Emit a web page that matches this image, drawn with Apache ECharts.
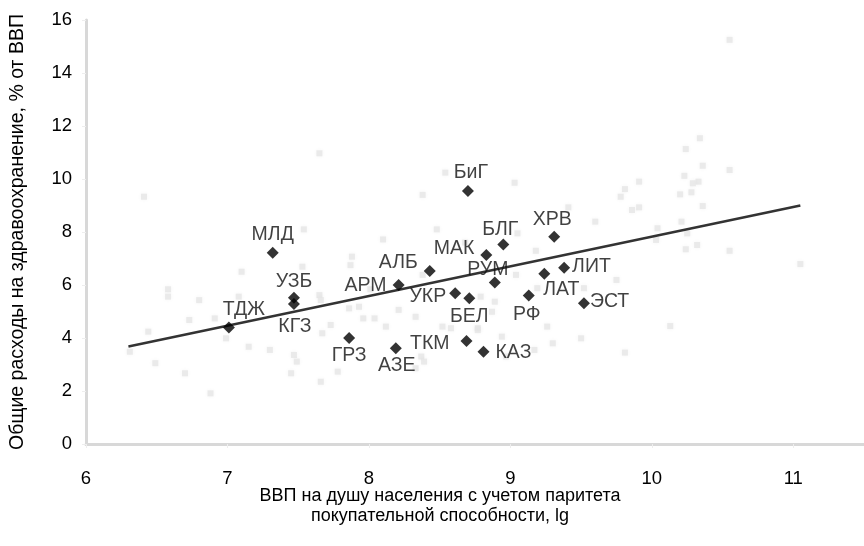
<!DOCTYPE html>
<html>
<head>
<meta charset="utf-8">
<script src="https://cdn.jsdelivr.net/npm/echarts@6/dist/echarts.min.js"></script>
<style>
  html, body { margin: 0; padding: 0; background: #fff; }
  #chart { width: 864px; height: 546px; }
</style>
</head>
<body>
<div id="chart"></div>
<script>
// Highlighted countries: code, log GDP per capita (PPP), total health spending (% of GDP)
const countryCodes = ['ТДЖ','МЛД','УЗБ','КГЗ','ГРЗ','АЗЕ','АРМ','АЛБ','УКР','БЕЛ','ТКМ','КАЗ','БиГ','МАК','БЛГ','РУМ','ХРВ','ЛАТ','ЛИТ','РФ','ЭСТ'];
const countryGdp   = [7.01, 7.32, 7.47, 7.47, 7.86, 8.19, 8.21, 8.43, 8.61, 8.71, 8.69, 8.81, 8.70, 8.83, 8.95, 8.89, 9.31, 9.24, 9.38, 9.13, 9.52];
const countryHealth= [4.40, 7.22, 5.52, 5.28, 4.00, 3.61, 6.00, 6.53, 5.69, 5.50, 3.89, 3.48, 9.55, 7.13, 7.53, 6.09, 7.82, 6.42, 6.65, 5.60, 5.31];

// Other countries of the world (background cloud)
const worldGdp = [6.41, 7.65, 8.54, 8.38, 9.03, 10.55, 10.34, 10.24, 10.36, 10.55, 10.23, 10.33, 10.29, 9.91, 9.81, 9.78, 10.20, 10.28,
  9.91, 9.86, 10.36, 9.60, 10.04, 10.21, 10.03, 10.25, 10.24, 10.32, 10.55, 11.05, 10.13, 9.81,
  9.41, 8.10, 8.48, 8.68, 9.05, 9.18, 7.88, 7.87, 8.38, 9.04, 9.19, 9.52, 9.75, 8.01, 8.21, 8.33, 7.96, 8.79, 8.87, 9.26, 8.52, 8.58, 8.77, 8.94, 9.30, 9.50, 8.12, 8.37, 8.39, 8.97, 8.33, 9.17,
  7.54, 7.10, 6.58, 6.58, 6.80, 7.08, 7.53, 7.65, 7.66, 7.86, 6.73, 6.91, 6.44, 6.99, 7.15, 7.30, 7.47, 7.49, 7.73, 7.67, 6.31, 6.49, 6.70, 6.88, 7.45, 7.66, 7.78,
  8.04, 7.93, 8.89, 8.77];
const worldHealth = [9.33, 10.97, 10.24, 9.40, 9.86, 15.25, 11.54, 11.13, 10.50, 10.34, 10.12, 9.90, 9.84, 9.90, 9.62, 9.33, 9.42, 9.50,
  8.93, 8.83, 8.98, 8.39, 8.14, 8.39, 7.70, 7.95, 7.35, 7.51, 7.29, 6.79, 4.45, 3.45,
  8.93, 7.72, 8.10, 7.60, 7.95, 7.29, 7.07, 6.75, 6.38, 6.38, 5.88, 5.88, 6.19, 5.84, 5.06, 4.80, 4.74, 5.56, 4.99, 4.43, 4.43, 4.37, 4.37, 4.05, 3.80, 3.99, 4.43, 3.30, 3.11, 3.30, 2.86, 3.55,
  8.10, 6.50, 5.84, 5.56, 5.43, 5.56, 6.69, 5.62, 5.43, 5.12, 4.68, 4.74, 4.24, 3.99, 3.67, 3.55, 3.36, 3.11, 4.49, 4.18, 3.48, 3.05, 2.67, 1.91, 2.67, 2.35, 2.73,
  4.74, 5.18, 5.37, 4.30];

// Linear trend end points
const trendGdp = [6.30, 11.05];
const trendHealth = [3.68, 9.00];

// Axis settings
const xTicks = { min: 6, max: 11.5, interval: 1 };
const yTicks = { min: 0, max: 16, interval: 2 };

// Where each country's caption sits relative to its marker
const labelPlace = {
  'ТДЖ': ['top', [15, 0], 2], 'МЛД': ['top', [0, 0], 2], 'УЗБ': ['top', [0, 2], 2], 'КГЗ': ['bottom', [1, 5], 2],
  'ГРЗ': ['bottom', [0, 0], 2], 'АЗЕ': ['bottom', [1, -1], 2], 'АРМ': ['left', [0, 1], 6], 'АЛБ': ['left', [0, -8], 6],
  'УКР': ['left', [0, 3], 3], 'БЕЛ': ['bottom', [0, 0], 2], 'ТКМ': ['left', [0, 3], 11], 'КАЗ': ['right', [0, 1], 6],
  'БиГ': ['top', [3, 0], 2], 'МАК': ['left', [0, -6], 6], 'БЛГ': ['top', [-3, 3], 2], 'РУМ': ['top', [-7, 5], 2],
  'ХРВ': ['top', [-2, 1], 2], 'ЛАТ': ['bottom', [17, -2], 2], 'ЛИТ': ['right', [0, -1], 2], 'РФ': ['bottom', [-2, 1], 2],
  'ЭСТ': ['right', [0, -2], 0]
};

const fontFamily = '"Liberation Sans", Arial, Helvetica, sans-serif';

const countryData = countryCodes.map((c, i) => {
  const p = labelPlace[c];
  return {
    name: c,
    value: [countryGdp[i], countryHealth[i]],
    label: { position: p[0], offset: p[1], distance: p[2] }
  };
});
const worldData = worldGdp.map((g, i) => [g, worldHealth[i]]);
const trendData = trendGdp.map((g, i) => [g, trendHealth[i]]);

const axisLineStyle = { color: '#d8d8d8', width: 3 };

const chart = echarts.init(document.getElementById('chart'), null, { renderer: 'canvas' });
chart.setOption({
  animation: false,
  backgroundColor: '#ffffff',
  grid: { left: 85, right: -11, top: 20, bottom: 102 },
  xAxis: {
    type: 'value',
    min: xTicks.min, max: xTicks.max, interval: xTicks.interval,
    name: 'ВВП на душу населения с учетом паритета\nпокупательной способности, lg',
    nameLocation: 'middle',
    nameMoveOverlap: false,
    nameGap: 42,
    nameTextStyle: { fontFamily, fontSize: 18, color: '#000000', lineHeight: 20, padding: [0, 0, 0, -70] },
    axisLine: { show: true, lineStyle: axisLineStyle },
    axisTick: { show: true, length: 4, inside: false, lineStyle: { color: '#eeeeee', width: 1 } },
    axisLabel: { fontFamily, fontSize: 18.5, color: '#000000', margin: 25, showMaxLabel: false },
    splitLine: { show: false }
  },
  yAxis: {
    type: 'value',
    min: yTicks.min, max: yTicks.max, interval: yTicks.interval,
    name: 'Общие расходы на здравоохранение, % от ВВП',
    nameLocation: 'middle',
    nameGap: 58,
    nameTextStyle: { fontFamily, fontSize: 19.5, color: '#000000' },
    axisLine: { show: true, lineStyle: axisLineStyle },
    axisTick: { show: true, length: 4, lineStyle: { color: '#eeeeee', width: 1 } },
    axisLabel: { fontFamily, fontSize: 18.5, color: '#000000', margin: 14 },
    splitLine: { show: false }
  },
  series: [
    {
      name: 'world',
      type: 'scatter',
      data: worldData,
      symbol: 'rect',
      symbolSize: 6,
      itemStyle: { color: '#e6e6e6', shadowColor: 'rgba(0,0,0,0.06)', shadowBlur: 4 },
      silent: true,
      z: 1
    },
    {
      name: 'trend',
      type: 'line',
      data: trendData,
      symbol: 'none',
      lineStyle: { color: '#333333', width: 2.5 },
      silent: true,
      z: 2
    },
    {
      name: 'countries',
      type: 'scatter',
      data: countryData,
      symbol: 'diamond',
      symbolSize: [12, 12],
      itemStyle: { color: '#000000' },
      label: {
        show: true,
        formatter: '{b}',
        fontFamily,
        fontSize: 19.5,
        color: '#111111'
      },
      z: 3
    }
  ]
});
</script>
</body>
</html>
